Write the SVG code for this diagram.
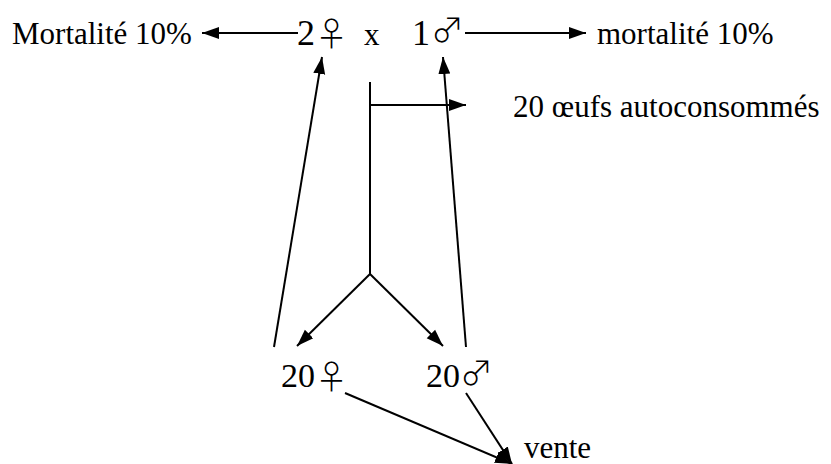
<svg xmlns="http://www.w3.org/2000/svg" width="831" height="464" viewBox="0 0 831 464">
  <style>
    .t { font-family: "Liberation Serif", "Times New Roman", serif; fill: #000; }
    .s { font-family: "DejaVu Sans", "Noto Sans CJK JP", sans-serif; font-weight: 200; fill: #000; }
    .c { stroke: #000; stroke-width: 2; fill: none; }
  </style>
  <defs>
    <marker id="arrow" markerUnits="userSpaceOnUse" markerWidth="18" markerHeight="14" refX="17" refY="7" orient="auto">
      <path d="M0,1 L17,7 L0,13 z" fill="#000"/>
    </marker>
  </defs>
  <rect width="831" height="464" fill="#fff"/>

  <!-- connectors -->
  <g id="connectors">
    <line class="c" x1="298" y1="33" x2="202" y2="33" marker-end="url(#arrow)"/>
    <line class="c" x1="465" y1="33" x2="586" y2="33" marker-end="url(#arrow)"/>
    <line class="c" x1="370" y1="82" x2="370" y2="274"/>
    <line class="c" x1="370" y1="105" x2="466" y2="105" marker-end="url(#arrow)"/>
    <line class="c" x1="370" y1="274" x2="297" y2="346" marker-end="url(#arrow)"/>
    <line class="c" x1="370" y1="274" x2="443" y2="346" marker-end="url(#arrow)"/>
    <line class="c" x1="274" y1="347" x2="322" y2="57" marker-end="url(#arrow)"/>
    <line class="c" x1="466" y1="347" x2="443" y2="57" marker-end="url(#arrow)"/>
    <line class="c" x1="345" y1="393" x2="512" y2="464" marker-end="url(#arrow)"/>
    <line class="c" x1="466" y1="393" x2="512" y2="464" marker-end="url(#arrow)"/>
  </g>

  <!-- nodes -->
  <g id="mortalite-femelles">
    <text class="t" x="12" y="44" font-size="31">Mortalité 10%</text>
  </g>
  <g id="parents">
    <text class="t" x="297" y="45" font-size="36">2</text>
    <text class="s" x="315" y="46" font-size="33">♀</text>
    <text class="t" x="364" y="45" font-size="31">x</text>
    <text class="t" x="412" y="45" font-size="36">1</text>
    <text class="s" x="431" y="42" font-size="33">♂</text>
  </g>
  <g id="mortalite-males">
    <text class="t" x="597" y="44" font-size="31">mortalité 10%</text>
  </g>
  <g id="oeufs">
    <text class="t" x="513" y="117" font-size="31">20 œufs autoconsommés</text>
  </g>
  <g id="jeunes-femelles">
    <text class="t" x="281" y="387" font-size="34">20</text>
    <text class="s" x="315" y="389" font-size="33">♀</text>
  </g>
  <g id="jeunes-males">
    <text class="t" x="426" y="387" font-size="34">20</text>
    <text class="s" x="460" y="385" font-size="33">♂</text>
  </g>
  <g id="vente">
    <text class="t" x="524" y="458" font-size="31">vente</text>
  </g>
</svg>
